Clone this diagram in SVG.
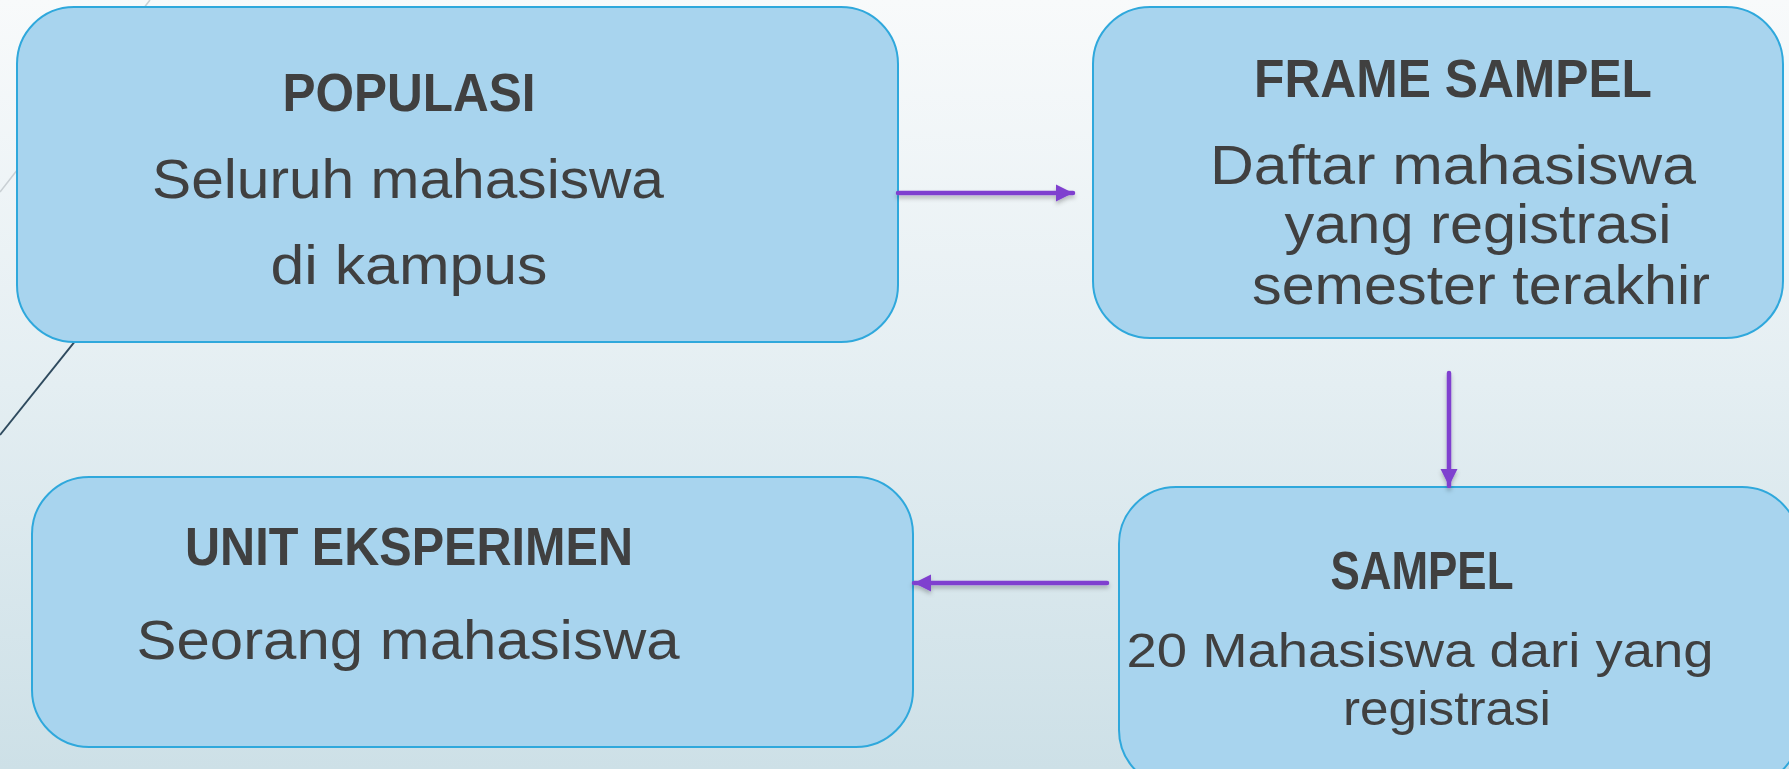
<svg xmlns="http://www.w3.org/2000/svg" width="1789" height="769" viewBox="0 0 1789 769">
<defs>
<linearGradient id="bg" x1="0" y1="0" x2="0" y2="1">
<stop offset="0" stop-color="#f8fafb"/>
<stop offset="0.5" stop-color="#e4eef2"/>
<stop offset="1" stop-color="#cde0e7"/>
</linearGradient>
<marker id="ah" viewBox="0 0 10 10" refX="10" refY="5" markerWidth="17" markerHeight="18" markerUnits="userSpaceOnUse" orient="auto">
<path d="M0,0 L10,5 L0,10 Z" fill="#7f3fcf"/>
</marker>
<filter id="sh" x="-10%" y="-50%" width="120%" height="200%">
<feDropShadow dx="0" dy="3" stdDeviation="2" flood-color="#000" flood-opacity="0.25"/>
</filter>
</defs>
<style>
.box{fill:#a8d4ee;stroke:#2fa8dc;stroke-width:2}
.h{font-family:"Liberation Sans",Arial,sans-serif;font-weight:bold;font-size:54px;fill:#404040;text-anchor:middle}
.t{font-family:"Liberation Sans",Arial,sans-serif;font-size:56px;fill:#404040;text-anchor:middle}
.s{font-size:49px}
.c{stroke:#7f3fcf;stroke-width:4.5;fill:none;stroke-linecap:round;marker-end:url(#ah)}
</style>
<rect width="1789" height="769" fill="url(#bg)"/>
<line x1="0" y1="192" x2="150" y2="0" stroke="#c9d0d4" stroke-width="1.5"/>
<line x1="0" y1="435" x2="160" y2="235" stroke="#2e4a5e" stroke-width="2"/>
<g id="populasi">
<rect class="box" x="17" y="7" width="881" height="335" rx="57"/>
<text class="h" x="409" y="111" textLength="253" lengthAdjust="spacingAndGlyphs">POPULASI</text>
<text class="t" x="408" y="198" textLength="512" lengthAdjust="spacingAndGlyphs">Seluruh mahasiswa</text>
<text class="t" x="409" y="284" textLength="277" lengthAdjust="spacingAndGlyphs">di kampus</text>
</g>
<g id="frame-sampel">
<rect class="box" x="1093" y="7" width="690" height="331" rx="57"/>
<text class="h" x="1453" y="97" textLength="398" lengthAdjust="spacingAndGlyphs">FRAME SAMPEL</text>
<text class="t" x="1453" y="184" textLength="486" lengthAdjust="spacingAndGlyphs">Daftar mahasiswa</text>
<text class="t" x="1478" y="243" textLength="387" lengthAdjust="spacingAndGlyphs">yang registrasi</text>
<text class="t" x="1481" y="304" textLength="458" lengthAdjust="spacingAndGlyphs">semester terakhir</text>
</g>
<g id="sampel">
<rect class="box" x="1119" y="487" width="680" height="300" rx="57"/>
<text class="h" x="1422" y="589" textLength="183" lengthAdjust="spacingAndGlyphs">SAMPEL</text>
<text class="t s" x="1420" y="667" textLength="587" lengthAdjust="spacingAndGlyphs">20 Mahasiswa dari yang</text>
<text class="t s" x="1447" y="725" textLength="208" lengthAdjust="spacingAndGlyphs">registrasi</text>
</g>
<g id="unit-eksperimen">
<rect class="box" x="32" y="477" width="881" height="270" rx="57"/>
<text class="h" x="409" y="565" textLength="448" lengthAdjust="spacingAndGlyphs">UNIT EKSPERIMEN</text>
<text class="t" x="408" y="659" textLength="543" lengthAdjust="spacingAndGlyphs">Seorang mahasiswa</text>
</g>
<g id="connectors" filter="url(#sh)">
<line class="c" x1="898" y1="193" x2="1073" y2="193"/>
<line class="c" x1="1449" y1="373" x2="1449" y2="486"/>
<line class="c" x1="1107" y1="583" x2="914" y2="583"/>
</g>
</svg>
